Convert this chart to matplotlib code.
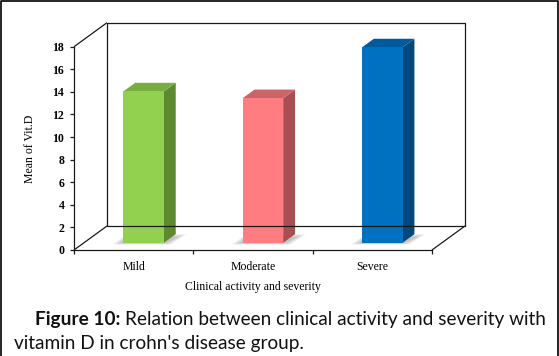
import matplotlib
matplotlib.use('Agg')
import matplotlib.pyplot as plt
from matplotlib.lines import Line2D

# Daten
kategorien = ['Mild', 'Moderate', 'Severe']
werte = [13.4, 12.8, 17.3]
y_ticks = [0, 2, 4, 6, 8, 10, 12, 14, 16, 18]

farbe_front = ['#92D050', '#FF7C80', '#0070C0']
farbe_seite = ['#5E8A2F', '#A84F54', '#00487E']
farbe_oben = ['#78AE3F', '#CB6469', '#005A9C']

W, H = 559, 356
fig = plt.figure(figsize=(W / 100, H / 100), dpi=100)
ax = fig.add_axes([74 / W, 1 - 250 / H, 358 / W, (250 - 46.7) / H])
ax.set_xlim(-0.5, 2.5)
ax.set_ylim(0, 18)

# Tiefe der 3D-Ansicht (in Datenkoordinaten)
tx = 33 / 119.33
ty = 24 / 11.29
lw = 0.9
kw = dict(color='#1a1a1a', lw=lw, clip_on=False, solid_capstyle='butt')

# Rueckwand und Boden
ax.plot([-0.5 + tx, -0.5 + tx, 2.5 + tx, 2.5 + tx, -0.5 + tx],
        [ty, 18 + ty, 18 + ty, ty, ty], **kw)
ax.plot([-0.5, -0.5 + tx], [0, ty], **kw)
ax.plot([-0.5, -0.5 + tx], [18, 18 + ty], **kw)
ax.plot([2.5, 2.5 + tx], [0, ty], **kw)

# Balken
f0, f1 = 0.30, 0.66
breite = 0.34
for i, (w, cf, cs, co) in enumerate(zip(werte, farbe_front, farbe_seite, farbe_oben)):
    x0 = i - breite / 2 + f0 * tx
    x1 = x0 + breite
    y0 = f0 * ty
    y1 = y0 + w
    ddx = (f1 - f0) * tx
    ddy = (f1 - f0) * ty
    # Schatten (weich, mehrere Lagen)
    for k in range(5):
        s = 0.012 * (5 - k)
        e = 0.06 * (5 - k)
        ax.fill([x0 - s * 1.5, x1 + s, x1 + ddx + s * 1.5, x0 + ddx * 0.3],
                [y0 - e * 0.5, y0 - e * 0.5, y0 + ddy * 0.6 + e, y0 + ddy * 0.6 + e],
                color='#404040', alpha=0.07, lw=0, clip_on=False)
    ax.fill([x1, x1 + ddx, x1 + ddx, x1], [y0, y0 + ddy, y1 + ddy, y1],
            color=cs, lw=0, clip_on=False)
    ax.fill([x0, x1, x1 + ddx, x0 + ddx], [y1, y1, y1 + ddy, y1 + ddy],
            color=co, lw=0, clip_on=False)
    ax.fill([x0, x1, x1, x0], [y0, y0, y1, y1], color=cf, lw=0, clip_on=False)

# Achsen
for s in ['top', 'right']:
    ax.spines[s].set_visible(False)
for s in ['left', 'bottom']:
    ax.spines[s].set_linewidth(lw)
    ax.spines[s].set_color('#1a1a1a')

schrift = dict(fontfamily='Liberation Serif', fontsize=8.5)
ax.set_yticks(y_ticks)
ax.set_yticklabels([str(t) for t in y_ticks], fontweight='bold', **schrift)
ax.tick_params(axis='y', length=3, width=lw, pad=4, color='#1a1a1a')
ax.set_xticks(range(len(kategorien)))
ax.set_xticklabels(kategorien, **schrift)
ax.set_xticks([-0.5, 0.5, 1.5, 2.5], minor=True)
ax.tick_params(axis='x', which='major', length=0, pad=8)
ax.tick_params(axis='x', which='minor', length=3, width=lw, color='#1a1a1a')

ax.set_xlabel('Clinical activity and severity', labelpad=6, **schrift)
ax.set_ylabel('Mean of Vit.D', labelpad=12, **schrift)
ax.patch.set_visible(False)

# Rahmen
fig.add_artist(Line2D([0.5 / W, 0.5 / W, 1 - 1 / W, 1 - 1 / W],
                      [0, 1 - 0.5 / H, 1 - 0.5 / H, 0],
                      transform=fig.transFigure, color='black', lw=1.2))

# Bildunterschrift
cap_font = dict(fontfamily='Lato', fontsize=13.7, color='#111111', va='center')
t1 = fig.text(35 / W, 1 - 319 / H, 'Figure 10:', fontweight='bold', **cap_font)
r = fig.canvas.get_renderer()
bb = t1.get_window_extent(renderer=r)
fig.text((bb.x1 + 5) / W, 1 - 319 / H,
         'Relation between clinical activity and severity with', **cap_font)
fig.text(14 / W, 1 - 343 / H, "vitamin D in crohn's disease group.", **cap_font)

fig.savefig('out.png', dpi=100)
